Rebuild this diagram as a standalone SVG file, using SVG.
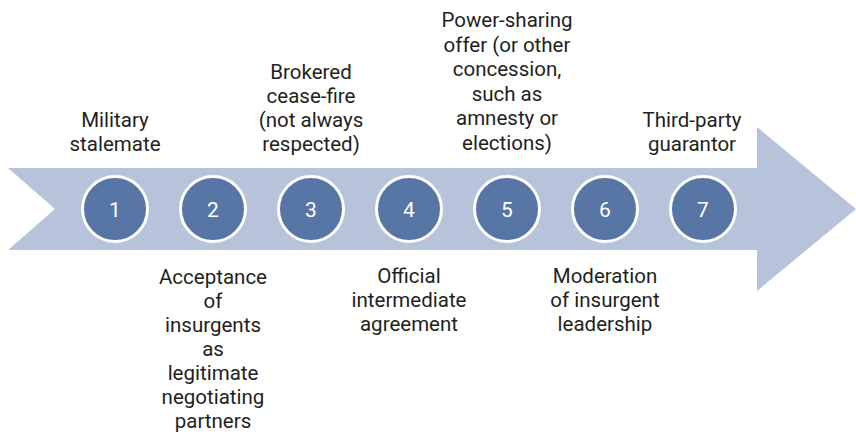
<svg xmlns="http://www.w3.org/2000/svg" width="856" height="440" viewBox="0 0 856 440">
<style>
.lbl{font-family:Roboto,"Liberation Sans",sans-serif;font-size:20.5px;fill:#231f20;text-anchor:middle}
.num{font-family:Roboto,"Liberation Sans",sans-serif;font-size:21px;fill:#ffffff;text-anchor:middle}
.c{fill:#5776a6;stroke:#ffffff;stroke-width:3}
</style>
<rect width="856" height="440" fill="#ffffff"/>
<g id="arrow">
<polygon points="8,168 757,168 757,127 856,209 757,291 757,250 8,250 55,209" fill="#b6c3db"/>
</g>
<g id="connectors"></g>
<g id="step1"><circle class="c" cx="115" cy="209" r="32.5"/><text class="num" x="115" y="216.5">1</text>
<text class="lbl"><tspan x="115" y="127">Military</tspan><tspan x="115" y="151">stalemate</tspan></text></g>
<g id="step2"><circle class="c" cx="213" cy="209" r="32.5"/><text class="num" x="213" y="216.5">2</text>
<text class="lbl"><tspan x="213" y="284">Acceptance</tspan><tspan x="213" y="308">of</tspan><tspan x="213" y="332">insurgents</tspan><tspan x="213" y="356">as</tspan><tspan x="213" y="380">legitimate</tspan><tspan x="213" y="404">negotiating</tspan><tspan x="213" y="428">partners</tspan></text></g>
<g id="step3"><circle class="c" cx="311" cy="209" r="32.5"/><text class="num" x="311" y="216.5">3</text>
<text class="lbl"><tspan x="311" y="79">Brokered</tspan><tspan x="311" y="103">cease-fire</tspan><tspan x="311" y="127">(not always</tspan><tspan x="311" y="151">respected)</tspan></text></g>
<g id="step4"><circle class="c" cx="409" cy="209" r="32.5"/><text class="num" x="409" y="216.5">4</text>
<text class="lbl"><tspan x="409" y="283">Official</tspan><tspan x="409" y="307">intermediate</tspan><tspan x="409" y="331">agreement</tspan></text></g>
<g id="step5"><circle class="c" cx="507" cy="209" r="32.5"/><text class="num" x="507" y="216.5">5</text>
<text class="lbl"><tspan x="507" y="27">Power-sharing</tspan><tspan x="507" y="51.5">offer (or other</tspan><tspan x="507" y="76">concession,</tspan><tspan x="507" y="100.5">such as</tspan><tspan x="507" y="125">amnesty or</tspan><tspan x="507" y="150">elections)</tspan></text></g>
<g id="step6"><circle class="c" cx="605" cy="209" r="32.5"/><text class="num" x="605" y="216.5">6</text>
<text class="lbl"><tspan x="605" y="283">Moderation</tspan><tspan x="605" y="307">of insurgent</tspan><tspan x="605" y="331">leadership</tspan></text></g>
<g id="step7"><circle class="c" cx="703" cy="209" r="32.5"/><text class="num" x="703" y="216.5">7</text>
<text class="lbl"><tspan x="692" y="127">Third-party</tspan><tspan x="692" y="151">guarantor</tspan></text></g>
</svg>
